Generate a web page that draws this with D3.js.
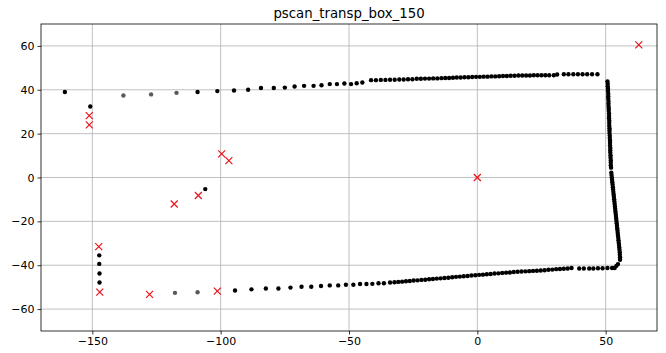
<!DOCTYPE html>
<html>
<head>
<meta charset="utf-8">
<script src="https://cdn.jsdelivr.net/npm/d3@7"></script>
<style>
  body { margin: 0; background: #fff; }
  svg { display: block; }
  .tick text { font-family: "DejaVu Sans", sans-serif; font-size: 11px; fill: #000; }
  .title { font-family: "DejaVu Sans", sans-serif; font-size: 13.3px; fill: #000; }
</style>
</head>
<body>
<div id="chart"></div>
<script>
// scan points (black)
const scanX = [
  -160.7, -150.8, -106.0,
  -147.3, -147.3, -147.2, -147.2,
  -109.0, -101.3, -94.8, -89.3, -84.3, -79.3, -75.0, -71.2, -67.5, -63.8, -60.7, -57.5, -54.7, -51.8, -49.2, -47.0, -44.8,
  -41.4, -39.5, -37.6, -35.8, -34.0, -32.2, -30.4, -28.7, -27.0, -25.3, -23.6, -22.0, -20.4, -18.8, -17.2, -15.6, -14.0,
  -12.5, -11.0, -9.5, -8.0, -6.5, -5.0, -3.5, -2.0, -0.5, 1.0, 2.5, 4.0, 5.5, 7.0, 8.5, 10.0, 11.5, 13.0, 14.5, 16.0,
  17.5, 19.0, 20.5, 22.0, 23.5, 25.0, 26.5, 28.0, 29.8,
  31.1, 33.7, 35.5, 37.4, 39.2, 41.0, 42.8, 44.7, 46.8,
  50.7, 50.8, 50.8, 50.9, 50.9, 51.0, 51.0, 51.0, 51.1, 51.1, 51.1, 51.2, 51.2, 51.3, 51.3, 51.3, 51.4, 51.4, 51.4,
  51.5, 51.5, 51.5, 51.6, 51.6, 51.7, 51.7, 51.7, 51.8, 51.8, 51.8, 51.9, 51.9, 52.0, 52.0, 52.0, 52.1, 52.2,
  52.3, 52.4, 52.5, 52.6, 52.7, 52.8, 52.9, 53.0, 53.1, 53.2, 53.3, 53.4, 53.5, 53.6, 53.7, 53.8, 53.9, 54.0,
  54.1, 54.2, 54.3, 54.4, 54.5, 54.6, 54.7, 54.8, 54.9, 55.0, 55.1, 55.2, 55.3, 55.4, 55.5, 55.5, 55.6, 55.6,
  54.8, 54.2,
  53.5, 52.5, 50.7, 48.8, 47.0, 45.2, 43.6, 41.5, 39.7, 36.7,
  35.2, 33.7, 32.2, 30.7, 29.2, 27.7, 26.2, 24.7, 23.2, 21.7, 20.2, 18.7, 17.2, 15.7, 14.2, 12.7, 11.2, 9.7, 8.2,
  6.7, 5.2, 3.7, 2.2, 0.7, -0.8, -2.3, -3.8, -5.3, -6.8, -8.3, -9.8, -11.3, -12.8, -14.3, -15.8, -17.3, -18.8,
  -20.3, -21.8, -23.3, -24.8, -26.3, -27.8, -29.3, -30.8, -32.3, -34.0, -36.4, -38.5, -40.9, -43.2, -45.7,
  -48.3, -51.2, -54.2, -57.5, -60.9, -64.7, -68.5, -72.8, -77.5, -82.4, -88.0, -94.4
];
const scanY = [
  39.0, 32.4, -5.3,
  -35.5, -39.4, -43.8, -47.9,
  39.0, 39.4, 39.7, 40.0, 40.8, 40.8, 41.0, 41.5, 41.8, 41.8, 42.1, 42.6, 42.6, 42.9, 42.6, 43.0, 43.3,
  44.4, 44.4, 44.5, 44.5, 44.6, 44.6, 44.7, 44.7, 44.8, 44.8, 45.0, 45.0, 45.1, 45.1, 45.2, 45.2, 45.3,
  45.4, 45.4, 45.5, 45.6, 45.6, 45.7, 45.7, 45.8, 45.9, 45.9, 46.0, 46.0, 46.1, 46.1, 46.2, 46.3, 46.3, 46.4, 46.4, 46.5,
  46.5, 46.5, 46.5, 46.6, 46.6, 46.6, 46.6, 46.6, 46.6,
  47.0, 47.1, 47.1, 47.1, 47.1, 47.1, 47.1, 47.1, 47.1,
  43.8, 42.7, 41.6, 40.5, 39.4, 38.2, 37.1, 36.0, 34.9, 33.8, 32.6, 31.5, 30.4, 29.2, 28.1, 27.0, 25.9, 24.8, 23.6,
  22.5, 21.4, 20.3, 19.1, 18.0, 16.9, 15.8, 14.6, 13.5, 12.4, 11.3, 10.1, 9.0, 7.9, 6.8, 5.6, 4.5, 2.2,
  1.1, 0.0, -1.1, -2.2, -3.3, -4.4, -5.5, -6.6, -7.7, -8.8, -9.9, -11.0, -12.1, -13.2, -14.3, -15.4, -16.5, -17.6,
  -18.7, -19.8, -20.9, -22.0, -23.1, -24.2, -25.3, -26.4, -27.5, -28.6, -29.7, -30.8, -31.9, -33.0, -34.1, -35.2, -36.4, -37.5,
  -39.5, -40.3,
  -41.3, -41.3, -41.3, -41.4, -41.4, -41.5, -41.5, -41.5, -41.5, -41.3,
  -41.5, -41.6, -41.7, -41.8, -42.0, -42.1, -42.3, -42.4, -42.5, -42.6, -42.7, -42.8, -42.9, -43.0, -43.1, -43.3, -43.4, -43.5, -43.7,
  -43.8, -44.0, -44.1, -44.3, -44.4, -44.6, -44.7, -44.9, -45.0, -45.2, -45.3, -45.5, -45.7, -45.8, -46.0, -46.1, -46.3, -46.4,
  -46.6, -46.7, -46.9, -47.0, -47.2, -47.3, -47.5, -47.6, -47.8, -47.9, -48.2, -48.2, -48.5, -48.6, -48.6,
  -48.9, -48.9, -49.2, -49.2, -49.5, -49.8, -49.8, -50.2, -50.6, -50.6, -51.0, -51.5
];

// faint scan points (grey)
const faintX = [-137.9, -127.1, -117.2, -117.8, -109.0];
const faintY = [37.4, 37.9, 38.6, -52.6, -52.3];

// red cross markers
const crossX = [-151.2, -151.2, -99.6, -96.8, -108.7, -118.1, -147.5, -147.1, -127.7, -101.3, 0.0, 62.9];
const crossY = [28.2, 24.0, 10.8, 7.7, -8.2, -12.1, -31.5, -52.3, -53.3, -51.8, 0.0, 60.5];

const xTicks = [-150, -100, -50, 0, 50];
const yTicks = [-60, -40, -20, 0, 20, 40, 60];

const W = 666, H = 353;
const margin = {top: 24, right: 9, bottom: 22, left: 41};
const iw = W - margin.left - margin.right;
const ih = H - margin.top - margin.bottom;

const svg = d3.select("#chart").append("svg")
  .attr("width", W)
  .attr("height", H);

const x = d3.scaleLinear().domain([-170, 70]).range([0, iw]);
const y = d3.scaleLinear().domain([-70, 70]).range([ih, 0]);

const fmt = d => (d < 0 ? "\u2212" + Math.abs(d) : "" + d);

const g = svg.append("g")
  .attr("transform", `translate(${margin.left},${margin.top})`);

// grid
g.append("g").selectAll("line.gx")
  .data(xTicks).enter().append("line")
  .attr("x1", d => x(d)).attr("x2", d => x(d))
  .attr("y1", 0).attr("y2", ih)
  .attr("stroke", "#b0b0b0").attr("stroke-width", 0.8);
g.append("g").selectAll("line.gy")
  .data(yTicks).enter().append("line")
  .attr("y1", d => y(d)).attr("y2", d => y(d))
  .attr("x1", 0).attr("x2", iw)
  .attr("stroke", "#b0b0b0").attr("stroke-width", 0.8);

// axes
const xAxis = g.append("g")
  .attr("transform", `translate(0,${ih})`)
  .call(d3.axisBottom(x).tickValues(xTicks).tickFormat(fmt).tickSize(3.5).tickPadding(3));
const yAxis = g.append("g")
  .call(d3.axisLeft(y).tickValues(yTicks).tickFormat(fmt).tickSize(3.5).tickPadding(3));
[xAxis, yAxis].forEach(a => {
  a.select(".domain").remove();
  a.selectAll(".tick line").attr("stroke", "#000").attr("stroke-width", 0.8);
});

// frame
g.append("rect")
  .attr("x", 0).attr("y", 0).attr("width", iw).attr("height", ih)
  .attr("fill", "none").attr("stroke", "#000").attr("stroke-width", 0.8);

// points
const scan = scanX.map((v, i) => [v, scanY[i]]);
const faint = faintX.map((v, i) => [v, faintY[i]]);
const cross = crossX.map((v, i) => [v, crossY[i]]);

g.append("g").selectAll("circle")
  .data(faint).enter().append("circle")
  .attr("cx", d => x(d[0])).attr("cy", d => y(d[1]))
  .attr("r", 2.2).attr("fill", "#5a5a5a");

g.append("g").selectAll("circle")
  .data(scan).enter().append("circle")
  .attr("cx", d => x(d[0])).attr("cy", d => y(d[1]))
  .attr("r", 2.2).attr("fill", "#000");

const s = 3.5;
g.append("g").selectAll("path")
  .data(cross).enter().append("path")
  .attr("d", d => {
    const cx = x(d[0]), cy = y(d[1]);
    return `M${cx - s},${cy - s}L${cx + s},${cy + s}M${cx - s},${cy + s}L${cx + s},${cy - s}`;
  })
  .attr("stroke", "#e8141c").attr("stroke-width", 1.2).attr("fill", "none");

// title
svg.append("text")
  .attr("class", "title")
  .attr("x", margin.left + iw / 2)
  .attr("y", 18)
  .attr("text-anchor", "middle")
  .text("pscan_transp_box_150");
</script>
</body>
</html>
